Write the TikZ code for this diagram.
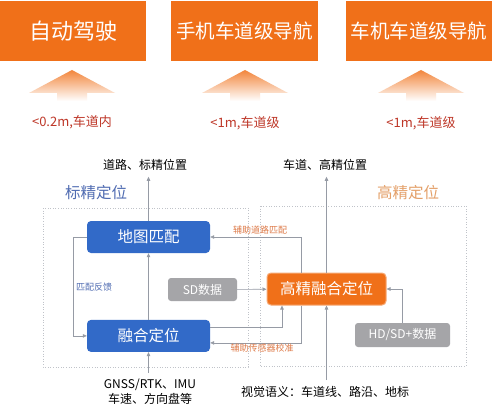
\documentclass[tikz,border=0pt]{standalone}
\usepackage{fontspec}
\setmainfont{Noto Sans CJK SC}
\usetikzlibrary{positioning,arrows.meta}
\definecolor{hot}{RGB}{240,112,25}
\definecolor{boxblue}{RGB}{50,106,200}
\definecolor{boxgray}{RGB}{165,165,168}
\definecolor{wire}{RGB}{150,155,165}
\definecolor{redtxt}{RGB}{190,55,40}
\definecolor{bluetxt}{RGB}{80,108,178}
\definecolor{orangetxt}{RGB}{228,160,105}
\definecolor{auxtxt}{RGB}{222,122,72}
\tikzset{
  topbox/.style={fill=hot,text=white,minimum width=146pt,minimum height=60pt,inner sep=0pt},
  uparrow/.style={top color=hot!85,middle color=hot!35,bottom color=white,draw=none},
  bluebox/.style={fill=boxblue,text=white,rounded corners=4pt,minimum width=123pt,minimum height=32pt,font=\fontsize{15.5}{18}\selectfont},
  graybox/.style={fill=boxgray,text=white,rounded corners=3pt,minimum height=23pt,font=\fontsize{12}{14}\selectfont},
  hotbox/.style={fill=hot,draw=hot!60,line width=1pt,text=white,rounded corners=4pt,minimum width=119pt,minimum height=32pt,font=\fontsize{15.5}{18}\selectfont},
  area/.style={draw=wire!60,dotted,line width=0.6pt},
  arr/.style={draw=wire,line width=0.6pt,-{Triangle[length=4pt,width=3.5pt]}},
  txt/.style={font=\fontsize{12}{15}\selectfont,inner sep=1pt},
  small/.style={font=\fontsize{9}{11}\selectfont,inner sep=1pt}
}
\begin{document}
\begin{tikzpicture}[x=1pt,y=-1pt]
\useasboundingbox[fill=white] (0,0) rectangle (492,414);

% scenes on top
\node[topbox,font=\fontsize{22}{26}\selectfont] (drive) at (73,31) {自动驾驶};
\node[topbox,font=\fontsize{19.5}{23}\selectfont,minimum width=147pt] (phone) at (244.5,31) {手机车道级导航};
\node[topbox,font=\fontsize{19.5}{23}\selectfont] (car) at (419,31) {车机车道级导航};

\shade[uparrow] (72,70) -- ++(43,23) -- ++(-28,0) -- ++(0,8) -- ++(-30,0) -- ++(0,-8) -- ++(-28,0) -- cycle;
\shade[uparrow] (245,70) -- ++(43,23) -- ++(-28,0) -- ++(0,8) -- ++(-30,0) -- ++(0,-8) -- ++(-28,0) -- cycle;
\shade[uparrow] (421,70) -- ++(43,23) -- ++(-28,0) -- ++(0,8) -- ++(-30,0) -- ++(0,-8) -- ++(-28,0) -- cycle;

\node[text=redtxt,font=\fontsize{13}{15}\selectfont] (acc_a) at (72,122) {<0.2m,车道内};
\node[text=redtxt,font=\fontsize{13}{15}\selectfont] (acc_b) at (245,123) {<1m,车道级};
\node[text=redtxt,font=\fontsize{13}{15}\selectfont] (acc_c) at (421,123) {<1m,车道级};

% two areas
\draw[area] (43,208) rectangle (248,367);
\draw[area] (260,206) rectangle (466,366);
\node[text=bluetxt,font=\fontsize{15.5}{18}\selectfont] (sd_title) at (96,193) {标精定位};
\node[text=orangetxt,font=\fontsize{15.5}{18}\selectfont] (hd_title) at (408,193) {高精定位};

\node[bluebox] (match) at (148.5,237) {地图匹配};
\node[bluebox] (fuse) [below=66.5pt of match] {融合定位};
\node[graybox,minimum width=69pt] (sd) at (202.5,289.5) {SD数据};
\node[hotbox] (hdfuse) at (326.5,289) {高精融合定位};
\node[graybox,minimum width=95pt,minimum height=24pt] (hdsd) at (402.5,335) {HD/SD+数据};

\node[txt] (road_out) at (145,165) {道路、标精位置};
\node[txt] (lane_out) at (325,165) {车道、高精位置};
\node[txt,align=center] (sensor) at (150,391.5) {GNSS/RTK、IMU\\车速、方向盘等};
\node[txt] (vision) at (325,392) {视觉语义：车道线、路沿、地标};

% connectors
\draw[arr] (match.north) -- (match.north |- road_out.south) [shorten >=5pt];
\draw[arr] (fuse.north) -- (match.south);
\draw[arr,shorten <=5pt] (fuse.south |- sensor.north) -- (fuse.south);
\draw[arr] (match.west) -- ++(-14,0) |- (fuse.west);
\node[small,text=bluetxt,anchor=west] (fb) at (75,287) {匹配反馈};
\draw[arr] (sd) -- (hdfuse);
\draw[arr] ([xshift=-25.5pt]hdfuse.north) |- (match.east);
\draw[arr] ([xshift=-25.5pt]hdfuse.south) |- ([yshift=-7pt]fuse.east);
\draw[arr] ([yshift=8.5pt]fuse.east) -| ([xshift=-44.5pt]hdfuse.south);
\node[small,text=auxtxt] (aux_match) at (260,230) {辅助道路匹配};
\node[small,text=auxtxt] (aux_calib) at (262,348) {辅助传感器校准};
\draw[arr] (hdsd.north) |- (hdfuse.east);
\draw[arr,shorten >=5pt] (hdfuse.north) -- (hdfuse.north |- lane_out.south);
\draw[arr,shorten <=5pt] (hdfuse.south |- vision.north) -- (hdfuse.south);
\end{tikzpicture}
\end{document}
